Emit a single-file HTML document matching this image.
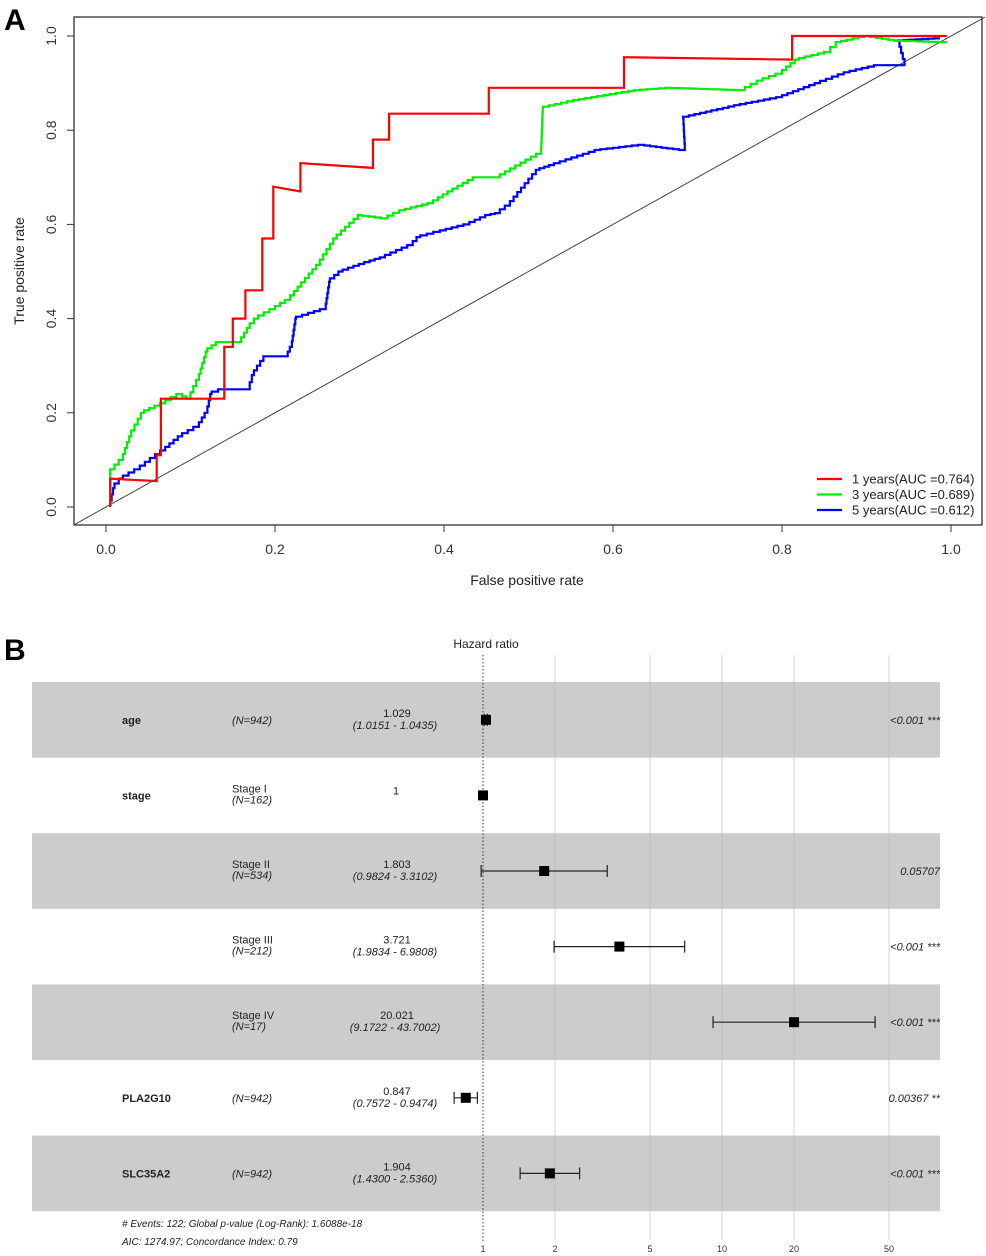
<!DOCTYPE html>
<html><head><meta charset="utf-8"><style>
body{margin:0;background:#fff;}
svg{display:block;font-family:"Liberation Sans",Arial,sans-serif;}
</style></head><body>
<svg id="fig" width="986" height="1256" viewBox="0 0 986 1256" xmlns="http://www.w3.org/2000/svg">
<text x="4" y="30" font-size="30" font-weight="bold">A</text>
<g id="roc"></g>
<text x="4" y="660" font-size="30" font-weight="bold">B</text>
<g id="forest"></g>
</svg>
<script>
const NS="http://www.w3.org/2000/svg";
// ROC data
const rocTicks=[0,0.2,0.4,0.6,0.8,1.0];
const rocTickLabels=["0.0","0.2","0.4","0.6","0.8","1.0"];
const red1Fpr=[0.005,0.005,0.06,0.06,0.065,0.065,0.14,0.14,0.15,0.15,0.165,0.165,0.185,0.185,0.198,0.198,0.23,0.23,0.316,0.316,0.335,0.335,0.453,0.453,0.613,0.613,0.812,0.812,0.995];
const red1Tpr=[0,0.06,0.055,0.11,0.11,0.23,0.23,0.34,0.34,0.40,0.40,0.46,0.46,0.57,0.57,0.68,0.67,0.73,0.72,0.78,0.78,0.835,0.835,0.89,0.89,0.955,0.95,1.0,1.0];
const green3Fpr=[0.005,0.005,0.02,0.03,0.045,0.07,0.09,0.1,0.11,0.12,0.135,0.16,0.17,0.18,0.2,0.218,0.253,0.273,0.303,0.333,0.354,0.387,0.41,0.44,0.466,0.515,0.517,0.56,0.632,0.67,0.756,0.777,0.80,0.82,0.857,0.87,0.904,0.94,0.995];
const green3Tpr=[0,0.07,0.1,0.15,0.2,0.22,0.24,0.23,0.27,0.33,0.35,0.35,0.38,0.40,0.42,0.44,0.514,0.57,0.62,0.613,0.63,0.645,0.67,0.70,0.70,0.75,0.847,0.864,0.885,0.89,0.885,0.905,0.92,0.95,0.966,0.987,1.0,0.99,0.987];
const blue5Fpr=[0.005,0.01,0.02,0.04,0.07,0.09,0.11,0.12,0.125,0.14,0.17,0.175,0.19,0.215,0.22,0.225,0.26,0.265,0.28,0.312,0.33,0.363,0.372,0.395,0.43,0.455,0.466,0.478,0.513,0.53,0.585,0.637,0.685,0.683,0.75,0.80,0.845,0.88,0.916,0.945,0.937,0.987];
const blue5Tpr=[0,0.04,0.06,0.08,0.12,0.15,0.17,0.20,0.24,0.25,0.25,0.28,0.32,0.32,0.34,0.40,0.42,0.478,0.50,0.52,0.53,0.556,0.573,0.584,0.60,0.62,0.624,0.64,0.716,0.726,0.758,0.769,0.758,0.826,0.853,0.87,0.90,0.923,0.938,0.938,0.99,0.995];
const legendLabels=["1 years(AUC =0.764)","3 years(AUC =0.689)","5 years(AUC =0.612)"];
const legendColors=["#ff0000","#00ee00","#0000ff"];

// Forest data
const fVars=["age","stage","","","","PLA2G10","SLC35A2"];
const fGroups=["(N=942)","Stage I\n(N=162)","Stage II\n(N=534)","Stage III\n(N=212)","Stage IV\n(N=17)","(N=942)","(N=942)"];
const fHR=[1.029,1,1.803,3.721,20.021,0.847,1.904];
const fLo=[1.0151,1,0.9824,1.9834,9.1722,0.7572,1.43];
const fHi=[1.0435,1,3.3102,6.9808,43.7002,0.9474,2.536];
const fHRText=["1.029","1","1.803","3.721","20.021","0.847","1.904"];
const fCIText=["(1.0151 -  1.0435)","","(0.9824 -  3.3102)","(1.9834 -  6.9808)","(9.1722 -  43.7002)","(0.7572 -  0.9474)","(1.4300 -  2.5360)"];
const fP=["<0.001 ***","","0.05707","<0.001 ***","<0.001 ***","0.00367 **","<0.001 ***"];
const fTicks=[1,2,5,10,20,50];

function el(tag,attrs,parent,text){const e=document.createElementNS(NS,tag);for(const k in attrs)e.setAttribute(k,attrs[k]);if(text!==undefined)e.textContent=text;parent.appendChild(e);return e;}

// ROC
const roc=document.getElementById('roc');
const xs=v=>106+v*845, ys=v=>507-v*471;
let r=el('rect',{x:74,y:17,width:908,height:508,fill:'none',stroke:'#333','stroke-width':1.3},roc);


let d=el('line',{x1:xs(-0.038),y1:ys(-0.038),x2:xs(1.04),y2:ys(1.04),stroke:'#444','stroke-width':1},roc);


rocTicks.forEach((t,i)=>{
  let a=el('line',{x1:xs(t),y1:525,x2:xs(t),y2:532,stroke:'#333'},roc);
  
  
  let b=el('text',{x:xs(t),y:554,'font-size':14,fill:'#333','text-anchor':'middle'},roc,rocTickLabels[i]);
  
  
  let c=el('line',{x1:74,y1:ys(t),x2:67,y2:ys(t),stroke:'#333'},roc);
  
  
  let e=el('text',{x:56,y:ys(t),'font-size':14,fill:'#333','text-anchor':'middle',transform:`rotate(-90 56 ${ys(t)})`},roc,rocTickLabels[i]);
  
  
});
let xt=el('text',{x:527,y:585,'font-size':14,fill:'#222','text-anchor':'middle'},roc,'False positive rate');


let yt=el('text',{x:24,y:271,'font-size':14,fill:'#222','text-anchor':'middle',transform:'rotate(-90 24 271)'},roc,'True positive rate');


function stairs(fx,ty,n){
  // jagged staircase between read points
  let pts=[[xs(fx[0]),ys(ty[0])]];
  for(let i=1;i<fx.length;i++){
    const x0=xs(fx[i-1]),y0=ys(ty[i-1]),x1=xs(fx[i]),y1=ys(ty[i]);
    const k=Math.max(1,Math.min(n,Math.round(Math.hypot(x1-x0,y1-y0)/6)));
    for(let j=1;j<=k;j++){
      const xa=x0+(x1-x0)*j/k, ya=y0+(y1-y0)*j/k, yp=y0+(y1-y0)*(j-1)/k;
      pts.push([x0+(x1-x0)*(j-1)/k,ya]);pts.push([xa,ya]);
    }
  }
  return pts.map(p=>p[0].toFixed(1)+','+p[1].toFixed(1)).join(' ');
}
[[blue5Fpr,blue5Tpr,2,'roc-curve-5-years',true],[green3Fpr,green3Tpr,1,'roc-curve-3-years',true],[red1Fpr,red1Tpr,0,'roc-curve-1-year',false]].forEach(([fx,ty,ci,nm,st])=>{
  const pts=st?stairs(fx,ty,30):fx.map((v,i)=>xs(v).toFixed(1)+','+ys(ty[i]).toFixed(1)).join(' ');
  let p=el('polyline',{points:pts,fill:'none',stroke:legendColors[ci],'stroke-width':2.2},roc);
  
  
});
legendLabels.forEach((l,i)=>{
  const y=479+i*15.5;
  let ln=el('line',{x1:817,y1:y,x2:842,y2:y,stroke:legendColors[i],'stroke-width':2.2},roc);
  
  
  let t=el('text',{x:852,y:y+4.5,'font-size':13,fill:'#222'},roc,l);
  
  
});

// Forest
const fo=document.getElementById('forest');
const fx=v=>483+Math.log10(v)*239;
const rowTop=682, rowH=75.6;
fHR.forEach((v,i)=>{
  if(i%2===0){let b=el('rect',{x:32,y:rowTop+i*rowH,width:908,height:rowH,fill:'#cccccc'},fo);
    
    }
});
fTicks.forEach(t=>{
  if(t!==1){let g=el('line',{x1:fx(t),y1:655,x2:fx(t),y2:1240,stroke:'#bbb','stroke-width':0.8,opacity:0.8},fo);
    
    }
  let tl=el('text',{x:fx(t),y:1252,'font-size':9,fill:'#333','text-anchor':'middle'},fo,String(t));
  
  
});
let ref=el('line',{x1:fx(1),y1:655,x2:fx(1),y2:1242,stroke:'#333','stroke-width':1,'stroke-dasharray':'1.5,2'},fo);


let ht=el('text',{x:486,y:648,'font-size':12,fill:'#222','text-anchor':'middle'},fo,'Hazard ratio');


fHR.forEach((v,i)=>{
  const cy=rowTop+i*rowH+rowH/2;
  if(fVars[i]){let t=el('text',{x:122,y:cy+4,'font-size':11,'font-weight':'bold',fill:'#222'},fo,fVars[i]);
    
    }
  const g=fGroups[i].split('\n');
  if(g.length===1){let t=el('text',{x:232,y:cy+4,'font-size':11,'font-style':'italic',fill:'#222'},fo,g[0]);
    
    }
  else{let t=el('text',{x:232,y:cy-3,'font-size':11,fill:'#222'},fo,g[0]);
    
    
    let t2=el('text',{x:232,y:cy+8,'font-size':11,'font-style':'italic',fill:'#222'},fo,g[1]);
    
    }
  if(fCIText[i]){let a=el('text',{x:397,y:cy-3,'font-size':11,fill:'#222','text-anchor':'middle'},fo,fHRText[i]);
    
    
    let b=el('text',{x:395,y:cy+9,'font-size':11,'font-style':'italic',fill:'#222','text-anchor':'middle'},fo,fCIText[i]);
    
    }
  else{let a=el('text',{x:396,y:cy-1,'font-size':11,fill:'#222','text-anchor':'middle'},fo,fHRText[i]);
    
    }
  if(fP[i]){let p=el('text',{x:940,y:cy+4,'font-size':11,'font-style':'italic',fill:'#222','text-anchor':'end'},fo,fP[i]);
    
    }
  if(fLo[i]!==fHi[i]){
    let l=el('line',{x1:fx(fLo[i]),y1:cy,x2:fx(fHi[i]),y2:cy,stroke:'#222','stroke-width':1.2},fo);
    
    
    [fLo[i],fHi[i]].forEach(e=>{let c=el('line',{x1:fx(e),y1:cy-6,x2:fx(e),y2:cy+6,stroke:'#222','stroke-width':1.2},fo);
      
      });
  }
  let s=el('rect',{x:fx(v)-5,y:cy-5,width:10,height:10,fill:'#000'},fo);
  
  
});
let n1=el('text',{x:122,y:1227,'font-size':10,'font-style':'italic',fill:'#222'},fo,'# Events: 122; Global p-value (Log-Rank): 1.6088e-18');


let n2=el('text',{x:122,y:1245,'font-size':10,'font-style':'italic',fill:'#222'},fo,'AIC: 1274.97; Concordance Index: 0.79');


</script>
</body></html>
